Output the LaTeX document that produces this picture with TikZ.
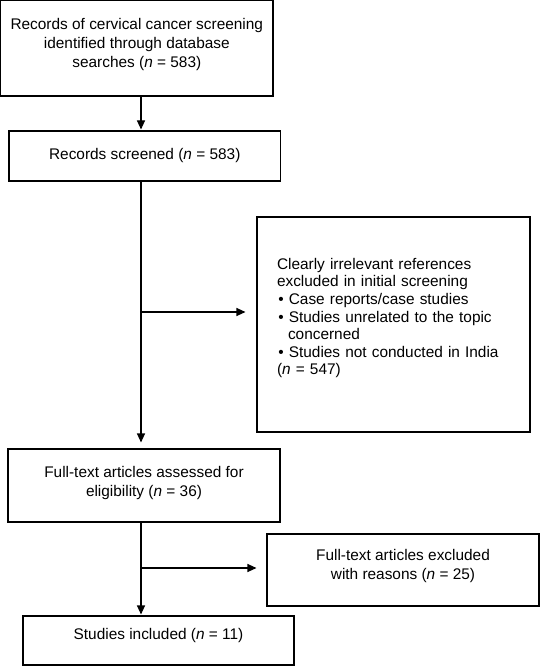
\documentclass[tikz,border=0pt]{standalone}
\usepackage{fontspec}
\setmainfont{Liberation Sans}
\usetikzlibrary{arrows.meta}
\newcommand\padbelow[1]{\rule[-#1]{0pt}{#1}}
\begin{document}
\begin{tikzpicture}[x=1pt,y=-1pt,
  box/.style={draw, line width=1.1pt, rectangle, inner sep=0pt, align=center,
    font=\fontsize{15.4}{19}\selectfont},
  arr/.style={line width=1.1pt, -{Triangle[length=9pt,width=8pt]}}]
\useasboundingbox (0,0) rectangle (540,666);
\node[box, minimum width=272.4pt, minimum height=95.4pt] (rec) at (136.8,48.3)
  {Records of cervical cancer screening\\identified through database\\searches (\textit{n} = 583)\padbelow{11pt}};
\node[box, minimum width=271.5pt, minimum height=50pt] (scr) at (144.75,156)
  {Records screened (\textit{n} = 583)};
\node[box, minimum width=273pt, minimum height=215pt, text width=233pt, inner xsep=20pt,
  align=left, font=\fontsize{15.4}{17.6}\selectfont] (irr) at (393.5,324.5)
  {Clearly irrelevant references\\
   excluded in initial screening\\
   \hspace*{1.3pt}•\ Case reports/case studies\\
   \hspace*{1.3pt}•\ Studies unrelated to the topic\\
   \hspace*{11pt}concerned\\
   \hspace*{1.3pt}•\ Studies not conducted in India\\
   (\textit{n} = 547)\padbelow{16pt}};
\node[box, minimum width=272pt, minimum height=73pt] (full) at (144,485.5)
  {Full-text articles assessed for\\eligibility (\textit{n} = 36)\padbelow{8pt}};
\node[box, minimum width=272pt, minimum height=72pt] (exc) at (403,570)
  {Full-text articles excluded\\with reasons (\textit{n} = 25)\padbelow{12pt}};
\node[box, minimum width=271pt, minimum height=49pt] (inc) at (158.5,640.5)
  {Studies included (\textit{n} = 11)\padbelow{14pt}};
\coordinate (col) at (141,0);
\coordinate (br1) at (141,312);
\coordinate (br2) at (141,568);
\draw[arr, shorten >=1pt] (col |- rec.south) -- (col |- scr.north);
\draw[arr, shorten >=6pt] (col |- scr.south) -- (col |- full.north);
\draw[arr, shorten >=11pt] (br1) -- (br1 -| irr.west);
\draw[arr, shorten >=1pt] (col |- full.south) -- (col |- inc.north);
\draw[arr, shorten >=10pt] (br2) -- (br2 -| exc.west);
\end{tikzpicture}
\end{document}
